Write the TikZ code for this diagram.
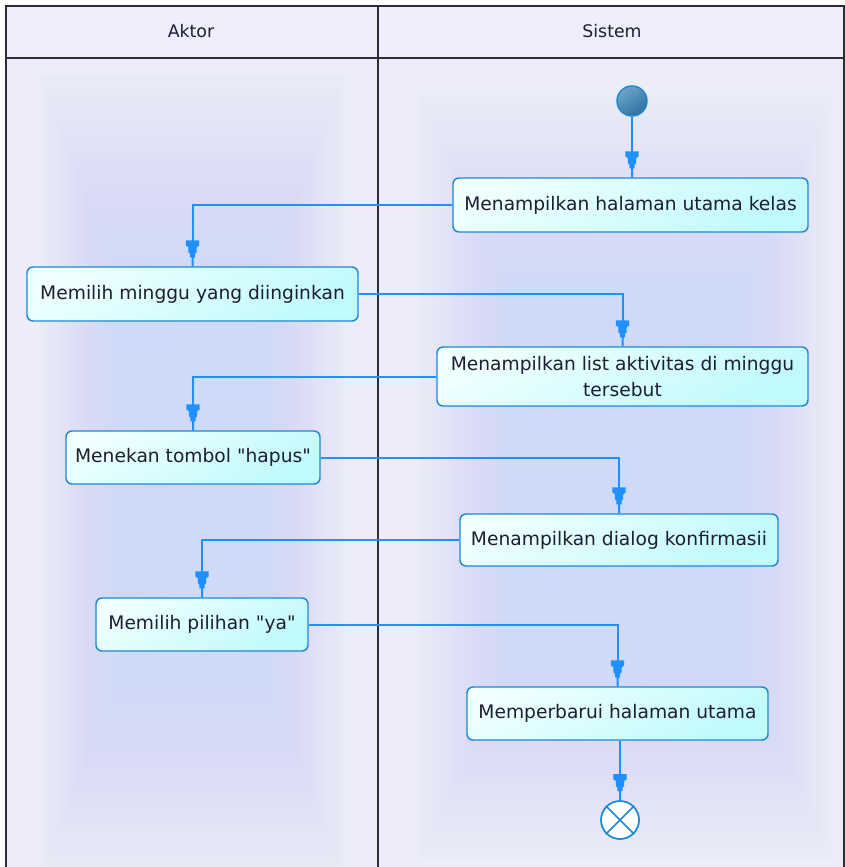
\documentclass[tikz,border=0pt]{standalone}
\usepackage{fontspec}
\setmainfont{DejaVu Sans}
\usetikzlibrary{arrows.meta}

% Colours of the swimlane activity diagram
\definecolor{laneBg}{RGB}{236,236,250}
\definecolor{headBg}{RGB}{238,238,252}
\definecolor{glowC}{RGB}{207,218,246}
\definecolor{frameC}{RGB}{45,45,50}
\definecolor{actBorder}{RGB}{30,136,210}
\definecolor{actTop}{RGB}{240,255,255}
\definecolor{actBot}{RGB}{192,250,252}
\definecolor{flowC}{RGB}{30,144,255}
\definecolor{txtC}{RGB}{30,30,50}
\definecolor{startTop}{RGB}{110,165,200}
\definecolor{startBot}{RGB}{45,112,160}

% Funnel-shaped arrow tip used by the control flows
\pgfdeclarearrow{
  name = UMLFunnel,
  setup code = {
    \pgfarrowssettipend{0pt}
    \pgfarrowssetlineend{-6.5pt}
    \pgfarrowssetbackend{-19.5pt}
    \pgfarrowssetvisualbackend{-19.5pt}
    \pgfarrowshullpoint{0pt}{0pt}
    \pgfarrowshullpoint{-19.5pt}{5pt}
    \pgfarrowshullpoint{-19.5pt}{-5pt}
  },
  drawing code = {
    \pgfpathmoveto{\pgfqpoint{-19.5pt}{5pt}}
    \pgfpathlineto{\pgfqpoint{-15.5pt}{5pt}}
    \pgfpathlineto{\pgfqpoint{-14.5pt}{3.2pt}}
    \pgfpathlineto{\pgfqpoint{-10.5pt}{3.1pt}}
    \pgfpathlineto{\pgfqpoint{-9.5pt}{1.9pt}}
    \pgfpathlineto{\pgfqpoint{-6.75pt}{1.9pt}}
    \pgfpathlineto{\pgfqpoint{-6.75pt}{0.75pt}}
    \pgfpathlineto{\pgfqpoint{0pt}{0.75pt}}
    \pgfpathlineto{\pgfqpoint{0pt}{-0.75pt}}
    \pgfpathlineto{\pgfqpoint{-6.75pt}{-0.75pt}}
    \pgfpathlineto{\pgfqpoint{-6.75pt}{-1.9pt}}
    \pgfpathlineto{\pgfqpoint{-9.5pt}{-1.9pt}}
    \pgfpathlineto{\pgfqpoint{-10.5pt}{-3.1pt}}
    \pgfpathlineto{\pgfqpoint{-14.5pt}{-3.2pt}}
    \pgfpathlineto{\pgfqpoint{-15.5pt}{-5pt}}
    \pgfpathlineto{\pgfqpoint{-19.5pt}{-5pt}}
    \pgfpathclose
    \pgfusepathqfill
  }
}

\begin{document}
\begin{tikzpicture}[x=0.75pt,y=-0.75pt,
  lanefont/.style={font=\fontsize{13}{15}\selectfont, text=txtC},
  act/.style={rectangle, rounded corners=4.5pt, draw=actBorder, line width=1.1pt,
    top color=actTop, bottom color=actBot, shading angle=30,
    text=txtC, font=\fontsize{14}{19.5}\selectfont, inner sep=0pt, align=center},
  flow/.style={draw=flowC, color=flowC, line width=1.5pt, -{UMLFunnel}},
  startnode/.style={circle, draw=actBorder, line width=1.1pt, minimum size=30*0.75pt,
    inner sep=0pt, top color=startTop, bottom color=startBot, shading angle=35},
  endnode/.style={circle, draw=actBorder, line width=1.3pt, fill=white,
    minimum size=38*0.75pt, inner sep=0pt},
  frame/.style={draw=frameC, line width=1.5pt}
]
\useasboundingbox (0,0) rectangle (845,867);
\clip (0,0) rectangle (845,867);

% lane backgrounds
\fill[laneBg] (6,58) rectangle (845,880);
\fill[headBg] (6,6) rectangle (845,58);

% soft glow in the middle of each lane
\foreach \k in {0,...,39}{
  \fill[glowC, opacity=0.036] (40+\k*2.8, 75+\k*7) rectangle (345-\k*2.8, 880-\k*7);
  \fill[glowC, opacity=0.036] (420+\k*3.2, 95+\k*7) rectangle (832-\k*3.2, 860-\k*7);
}

% swimlane frame
\draw[frame] (6,880) -- (6,6) -- (844,6) -- (844,880);
\draw[frame] (6,58) -- (844,58);
\draw[frame] (378,6) -- (378,880);
\node[lanefont] (laneA) at (191,31) {Aktor};
\node[lanefont] (laneS) at (612,31) {Sistem};

% activities
\node[startnode] (start) at (632,101) {};
\node[act, minimum width=355*0.75pt, minimum height=54*0.75pt] (n1) at (630.5,205)
  {Menampilkan halaman utama kelas};
\node[act, minimum width=331*0.75pt, minimum height=54*0.75pt] (n2) at (192.5,294)
  {Memilih minggu yang diinginkan};
\node[act, minimum width=371*0.75pt, minimum height=59*0.75pt] (n3) at (622.5,376.5)
  {Menampilkan list aktivitas di minggu\\tersebut};
\node[act, minimum width=254*0.75pt, minimum height=53*0.75pt] (n4) at (193,457.5)
  {Menekan tombol \textquotedbl hapus\textquotedbl};
\node[act, minimum width=318*0.75pt, minimum height=52*0.75pt] (n5) at (619,540)
  {Menampilkan dialog konfirmasii};
\node[act, minimum width=212*0.75pt, minimum height=53*0.75pt] (n6) at (202,624.5)
  {Memilih pilihan \textquotedbl ya\textquotedbl};
\node[act, minimum width=301*0.75pt, minimum height=53*0.75pt] (n7) at (617.5,713.5)
  {Memperbarui halaman utama};
\node[endnode] (end) at (620,820) {};
\draw[actBorder, line width=1.3pt] (end.north west) -- (end.south east)
  (end.north east) -- (end.south west);

% control flows
\draw[flow] (start) -- (start |- n1.north);
\draw[flow] (n1.west) -| (n2.north);
\draw[flow] (n2.east) -| (n3.north);
\draw[flow] (n3.west) -| (n4.north);
\draw[flow] (n4.east) -| (n5.north);
\draw[flow] (n5.west) -| (n6.north);
\draw[flow] (n6.east) -| (n7.north);
\draw[flow] (end |- n7.south) -- (end);
\end{tikzpicture}
\end{document}
